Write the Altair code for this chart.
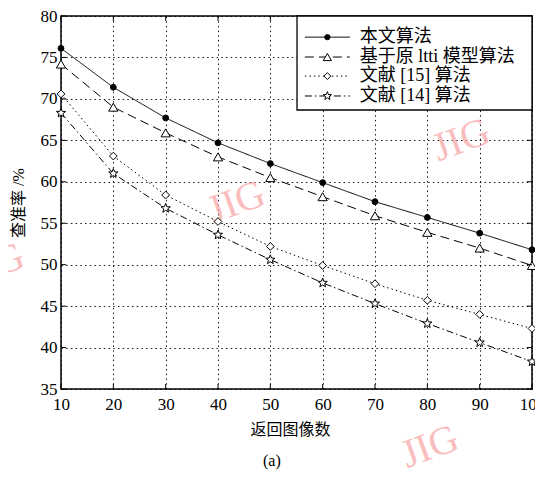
import math
import altair as alt
import pandas as pd

# ---------------- data ----------------
x_values = [10, 20, 30, 40, 50, 60, 70, 80, 90, 100]
series_names = ["本文算法", "基于原 ltti 模型算法", "文献 [15] 算法", "文献 [14] 算法"]
ours = [76.1, 71.4, 67.7, 64.7, 62.2, 59.9, 57.6, 55.7, 53.8, 51.8]
ltti = [74.2, 69.0, 65.9, 63.0, 60.5, 58.2, 55.9, 53.9, 52.0, 49.9]
ref15 = [70.6, 63.1, 58.4, 55.2, 52.2, 49.9, 47.7, 45.7, 44.0, 42.3]
ref14 = [68.3, 61.0, 56.8, 53.6, 50.6, 47.8, 45.3, 42.9, 40.6, 38.3]
x_ticks = [10, 20, 30, 40, 50, 60, 70, 80, 90, 100]
y_ticks = [35, 40, 45, 50, 55, 60, 65, 70, 75, 80]

# legend layout (in the chart's own data units)
legend_box = [55.1, 100, 68.66, 80]          # x1, x2, y1, y2
legend_row_y = [77.45, 75.05, 72.75, 70.35]
legend_line_x = [56.6, 65.2]
legend_marker_x = 60.9
legend_label_x = 67.1

# sub-figure caption
caption_text = ["(a)"]
caption_x = [50.3]
caption_y = [26.35]

watermark_text = ["JIG", "JIG", "JIG", "JIG"]
watermark_x = [86.5, 43.5, -2.5, 80.5]
watermark_y = [65.0, 57.5, 50.0, 28.0]

rows = []
for name, vals in zip(series_names, [ours, ltti, ref15, ref14]):
    for xv, yv in zip(x_values, vals):
        rows.append({"x": xv, "y": yv, "series": name})
df = pd.DataFrame(rows)

leg = pd.DataFrame({
    "series": series_names,
    "y": legend_row_y,
    "x1": [legend_line_x[0]] * 4,
    "x2": [legend_line_x[1]] * 4,
    "xm": [legend_marker_x] * 4,
    "xl": [legend_label_x] * 4,
})

SERIF = "Liberation Serif, Noto Sans CJK SC"


def star_path(ro, ri):
    pts = []
    for k in range(10):
        a = math.radians(-90 + 36 * k)
        r = ro if k % 2 == 0 else ri
        pts.append(f"{r * math.cos(a):.3f},{r * math.sin(a):.3f}")
    return "M" + "L".join(pts) + "Z"


# marker / line styles
plot_shapes = ["circle", "triangle-up", "diamond", star_path(1.0, 0.42)]
plot_fills = ["black", "white", "white", "white"]
plot_sizes = [34, 85, 60, 95]
dashes = [[1, 0], [9, 5], [1.5, 3], [7, 3, 1.5, 3]]

xs = alt.Scale(domain=[10, 100], nice=False, zero=False)
ys = alt.Scale(domain=[35, 80], nice=False, zero=False)

xenc = alt.X("x:Q", scale=xs,
             axis=alt.Axis(values=x_ticks, title="返回图像数", grid=True,
                           labelPadding=7, titlePadding=9, labelFlush=False,
                           titleX=229, titleAlign="center"))
yenc = alt.Y("y:Q", scale=ys,
             axis=alt.Axis(values=y_ticks, title="查准率 /%", grid=True,
                           labelPadding=4, titlePadding=14, labelFlush=False))
xq = alt.X("x:Q", scale=xs)
yq = alt.Y("y:Q", scale=ys)

base = alt.Chart(df)
layers = []

# watermarks (background)
wm = pd.DataFrame({"text": watermark_text, "x": watermark_x, "y": watermark_y})
layers.append(alt.Chart(wm).mark_text(
    font="Liberation Serif", fontSize=40, color="#f9a8a8", opacity=0.75,
    angle=340
).encode(x=xq, y=yq, text="text:N"))

for i, name in enumerate(series_names):
    sub = base.transform_filter(alt.datum.series == name)
    layers.append(sub.mark_line(color="black", strokeWidth=1, strokeDash=dashes[i])
                  .encode(x=xenc, y=yenc))
for i, name in enumerate(series_names):
    sub = base.transform_filter(alt.datum.series == name)
    layers.append(sub.mark_point(shape=plot_shapes[i], fill=plot_fills[i],
                                 size=plot_sizes[i], stroke="black",
                                 strokeWidth=1, opacity=1, fillOpacity=1)
                  .encode(x=xq, y=yq))

# inward tick marks on all four sides
tx = pd.DataFrame({"t": x_ticks})
ty = pd.DataFrame({"t": y_ticks})
layers.append(alt.Chart(tx).mark_rule(color="black", strokeWidth=1).encode(
    x=alt.X("t:Q", scale=xs), y=alt.datum(35, scale=ys), y2=alt.datum(35.6)))
layers.append(alt.Chart(tx).mark_rule(color="black", strokeWidth=1).encode(
    x=alt.X("t:Q", scale=xs), y=alt.datum(80, scale=ys), y2=alt.datum(79.4)))
layers.append(alt.Chart(ty).mark_rule(color="black", strokeWidth=1).encode(
    y=alt.Y("t:Q", scale=ys), x=alt.datum(10, scale=xs), x2=alt.datum(11.0)))
layers.append(alt.Chart(ty).mark_rule(color="black", strokeWidth=1).encode(
    y=alt.Y("t:Q", scale=ys), x=alt.datum(100, scale=xs), x2=alt.datum(99.0)))

# legend box
box = pd.DataFrame({"x1": [legend_box[0]], "x2": [legend_box[1]],
                    "y1": [legend_box[2]], "y2": [legend_box[3]]})
layers.append(alt.Chart(box).mark_rect(fill="white", stroke="black", strokeWidth=1.3).encode(
    x=alt.X("x1:Q", scale=xs), x2="x2:Q", y=alt.Y("y1:Q", scale=ys), y2="y2:Q"))

legbase = alt.Chart(leg)
for i, name in enumerate(series_names):
    sub = legbase.transform_filter(alt.datum.series == name)
    layers.append(sub.mark_rule(color="black", strokeWidth=1, strokeDash=dashes[i]).encode(
        x=alt.X("x1:Q", scale=xs), x2="x2:Q", y=alt.Y("y:Q", scale=ys)))
    layers.append(sub.mark_point(shape=plot_shapes[i], fill=plot_fills[i],
                                 size=plot_sizes[i] * 0.8, stroke="black",
                                 strokeWidth=1, opacity=1, fillOpacity=1).encode(
        x=alt.X("xm:Q", scale=xs), y=alt.Y("y:Q", scale=ys)))
layers.append(legbase.mark_text(align="left", baseline="middle", font=SERIF,
                                fontSize=18, color="black").encode(
    x=alt.X("xl:Q", scale=xs), y=alt.Y("y:Q", scale=ys), text="series:N"))

# caption "(a)"
cap = pd.DataFrame({"text": caption_text, "x": caption_x, "y": caption_y})
layers.append(alt.Chart(cap).mark_text(font=SERIF, fontSize=16, color="black",
                                       baseline="middle", align="center").encode(
    x=xq, y=yq, text="text:N"))

chart = alt.layer(*layers).properties(
    width=471, height=373,
    autosize=alt.AutoSizeParams(type="none"),
    padding={"left": 53, "top": 8, "right": 3, "bottom": 82},
).configure_view(
    stroke="black", strokeWidth=1.5
).configure_axis(
    domain=False, ticks=False, tickSize=0,
    labelFont="Liberation Serif", labelFontSize=17, labelColor="black",
    titleFont=SERIF, titleFontSize=16, titleFontWeight="normal", titleColor="black",
    gridColor="black", gridDash=[1.5, 3.2], gridWidth=1, gridOpacity=0.9,
)

chart.save("out.html", embed_options={"renderer": "svg", "actions": False})
